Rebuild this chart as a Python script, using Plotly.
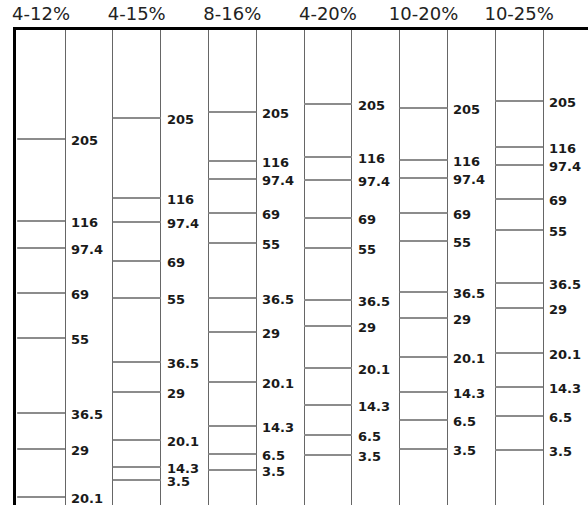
import plotly.graph_objects as go

# Gel types (gradient ranges) shown as column headers
gels = ["4-12%", "4-15%", "8-16%", "4-20%", "10-20%", "10-25%"]

# Marker molecular weights (kDa) visible in each gel lane
mw_4_12 = [205, 116, 97.4, 69, 55, 36.5, 29, 20.1]
mw_4_15 = [205, 116, 97.4, 69, 55, 36.5, 29, 20.1, 14.3, 3.5]
mw_8_16 = [205, 116, 97.4, 69, 55, 36.5, 29, 20.1, 14.3, 6.5, 3.5]
mw_4_20 = [205, 116, 97.4, 69, 55, 36.5, 29, 20.1, 14.3, 6.5, 3.5]
mw_10_20 = [205, 116, 97.4, 69, 55, 36.5, 29, 20.1, 14.3, 6.5, 3.5]
mw_10_25 = [205, 116, 97.4, 69, 55, 36.5, 29, 20.1, 14.3, 6.5, 3.5]

# Migration distance of each band from the top of the gel (arbitrary units)
mig_4_12 = [109, 191, 218, 263, 308, 383, 419, 467]
mig_4_15 = [88, 168, 192, 231, 268, 332, 362, 410, 437, 450]
mig_8_16 = [82, 131, 149, 183, 213, 268, 302, 352, 396, 424, 440]
mig_4_20 = [74, 127, 150, 188, 218, 270, 296, 338, 375, 405, 425]
mig_10_20 = [78, 130, 148, 183, 211, 262, 288, 327, 362, 390, 419]
mig_10_25 = [71, 117, 135, 169, 200, 253, 278, 323, 357, 386, 420]

weights = [mw_4_12, mw_4_15, mw_8_16, mw_4_20, mw_10_20, mw_10_25]
migrations = [mig_4_12, mig_4_15, mig_8_16, mig_4_20, mig_10_20, mig_10_25]

GEL_LENGTH = 475
BAND_COLOR = "#8c8c8c"
FONT_FAMILY = "DejaVu Sans, Verdana, sans-serif"
LABEL_FONT = dict(family=FONT_FAMILY, size=13, color="#1a1a1a")

fig = go.Figure()
annotations = []

for i, (mws, migs) in enumerate(zip(weights, migrations)):
    lane_left = 2 * i
    lane_right = 2 * i + 1
    xs, ys = [], []
    for m in migs:
        xs += [lane_left, lane_right, None]
        ys += [m, m, None]
    fig.add_trace(go.Scatter(
        x=xs, y=ys, mode="lines",
        line=dict(color=BAND_COLOR, width=2),
        hoverinfo="skip", showlegend=False,
    ))
    for w, m in zip(mws, migs):
        annotations.append(dict(
            x=lane_right, y=m, xref="x", yref="y",
            text=f"<b>{w:g}</b>", showarrow=False,
            xanchor="left", yanchor="middle", xshift=5, yshift=-1.5,
            borderpad=0,
            font=LABEL_FONT,
        ))

fig.update_layout(
    width=588, height=505,
    margin=dict(l=16, r=0, t=30, b=0),
    paper_bgcolor="white", plot_bgcolor="white",
    annotations=annotations,
    xaxis=dict(
        range=[-0.025, 11.94], side="top",
        showline=True, linewidth=3, linecolor="black",
        zeroline=False, showgrid=False, ticks="",
        tickvals=[2 * i + 0.5 for i in range(len(gels))],
        ticktext=gels,
        tickfont=dict(family=FONT_FAMILY, size=18, color="#222"),
        minor=dict(tickvals=list(range(1, 12)), showgrid=True,
                   gridcolor="#666", gridwidth=1, ticks=""),
        fixedrange=True,
    ),
    yaxis=dict(
        range=[GEL_LENGTH, 0],
        showline=True, linewidth=3, linecolor="black",
        zeroline=False, showgrid=False, showticklabels=False, ticks="",
        fixedrange=True,
    ),
)

fig.write_html("out.html", config={"displayModeBar": False})
